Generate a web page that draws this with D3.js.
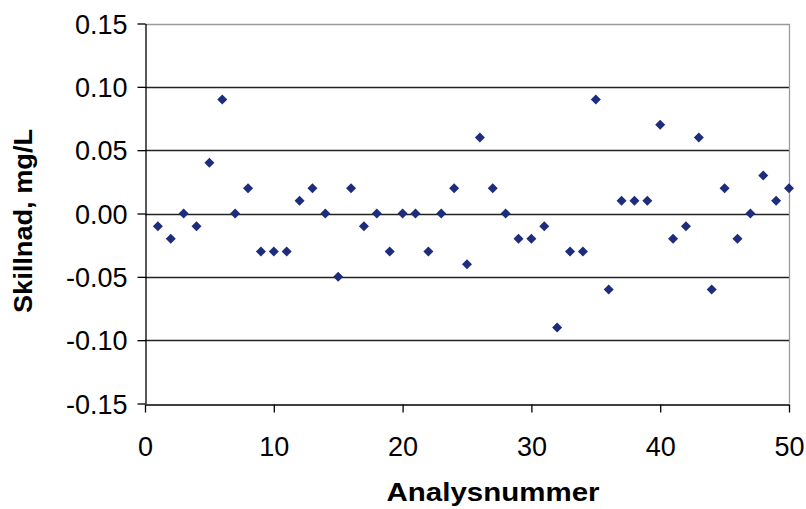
<!DOCTYPE html>
<html>
<head>
<meta charset="utf-8">
<script src="https://cdn.jsdelivr.net/npm/d3@7"></script>
<style>
  body { margin: 0; background: #fff; }
  .axis text { font-family: Arial, "Liberation Sans", sans-serif; font-size: 27px; fill: #000; }
  .axis path, .axis line { stroke: #000; }
</style>
</head>
<body>
<div class="diagram"></div>
<script>
'use strict';
(function() {
  // Data
  var analysis = [1, 2, 3, 4, 5, 6, 7, 8, 9, 10, 11, 12, 13, 14, 15, 16, 17, 18, 19, 20,
    21, 22, 23, 24, 25, 26, 27, 28, 29, 30, 31, 32, 33, 34, 35, 36, 37, 38, 39, 40,
    41, 42, 43, 44, 45, 46, 47, 48, 49, 50];
  var difference = [-0.01, -0.02, 0.00, -0.01, 0.04, 0.09, 0.00, 0.02, -0.03, -0.03,
    -0.03, 0.01, 0.02, 0.00, -0.05, 0.02, -0.01, 0.00, -0.03, 0.00,
    0.00, -0.03, 0.00, 0.02, -0.04, 0.06, 0.02, 0.00, -0.02, -0.02,
    -0.01, -0.09, -0.03, -0.03, 0.09, -0.06, 0.01, 0.01, 0.01, 0.07,
    -0.02, -0.01, 0.06, -0.06, 0.02, -0.02, 0.00, 0.03, 0.01, 0.02];
  var xTicks = [0, 10, 20, 30, 40, 50];
  var yTicks = [-0.15, -0.10, -0.05, 0.00, 0.05, 0.10, 0.15];

  var w = 806;
  var h = 509;
  var left = 145, right = 789, top = 23.5, bottom = 403.5;

  var points = analysis.map(function(a, i) { return {x: a, y: difference[i]}; });

  var xScale = d3.scaleLinear().domain([0, 50]).range([left, right]);
  var yScale = d3.scaleLinear().domain([-0.15, 0.15]).range([bottom, top]);

  // Excel style: plain hyphen for negatives
  var fmt = function(d) { return d.toFixed(2).replace("-0.00", "0.00"); };

  var svg = d3.select(".diagram")
    .append("svg")
    .attr("width", w)
    .attr("height", h);

  // Gridlines
  svg.append("g")
    .selectAll("line")
    .data(yTicks.filter(function(t) { return t > -0.15 && t < 0.15; }))
    .enter()
    .append("line")
    .attr("x1", left)
    .attr("x2", right)
    .attr("y1", function(d) { return Math.round(yScale(d)) + 0.5; })
    .attr("y2", function(d) { return Math.round(yScale(d)) + 0.5; })
    .attr("stroke", "#222")
    .attr("stroke-width", 1.3);

  // Plot border (top and right)
  svg.append("path")
    .attr("d", "M" + left + "," + (Math.round(top) + 0.5) + "H" + (right + 0.5) + "V" + bottom)
    .attr("fill", "none")
    .attr("stroke", "#9a9a9a")
    .attr("stroke-width", 1.3);

  // Y axis
  svg.append("g")
    .attr("class", "axis")
    .attr("transform", "translate(" + (left + 0.5) + ",0)")
    .call(d3.axisLeft(yScale)
      .tickValues(yTicks)
      .tickFormat(fmt)
      .tickSizeInner(8)
      .tickSizeOuter(0)
      .tickPadding(10))
    .call(function(g) { g.selectAll("line, path").attr("stroke-width", 1.3); })
    .call(function(g) { g.selectAll("text").attr("dy", "0.36em"); });

  // X axis
  svg.append("g")
    .attr("class", "axis")
    .attr("transform", "translate(0," + (Math.round(bottom) + 0.5) + ")")
    .call(d3.axisBottom(xScale)
      .tickValues(xTicks)
      .tickSizeInner(8)
      .tickSizeOuter(0)
      .tickPadding(24))
    .call(function(g) { g.selectAll("line, path").attr("stroke-width", 1.3); });

  // Diamonds
  var diamond = d3.symbol().type(d3.symbolDiamond2).size(64);
  svg.append("g")
    .selectAll("path")
    .data(points)
    .enter()
    .append("path")
    .attr("d", diamond)
    .attr("transform", function(d) {
      return "translate(" + xScale(d.x) + "," + yScale(d.y) + ")";
    })
    .attr("fill", "#1d2c7c");

  // Axis titles
  svg.append("text")
    .attr("x", 493)
    .attr("y", 501)
    .attr("text-anchor", "middle")
    .attr("font-family", "Arial, 'Liberation Sans', sans-serif")
    .attr("font-weight", "bold")
    .attr("font-size", 26)
    .attr("textLength", 213)
    .attr("lengthAdjust", "spacingAndGlyphs")
    .text("Analysnummer");

  svg.append("text")
    .attr("transform", "translate(32,221) rotate(-90)")
    .attr("text-anchor", "middle")
    .attr("font-family", "Arial, 'Liberation Sans', sans-serif")
    .attr("font-weight", "bold")
    .attr("font-size", 26)
    .attr("textLength", 184)
    .attr("lengthAdjust", "spacingAndGlyphs")
    .text("Skillnad, mg/L");
})();
</script>
</body>
</html>
